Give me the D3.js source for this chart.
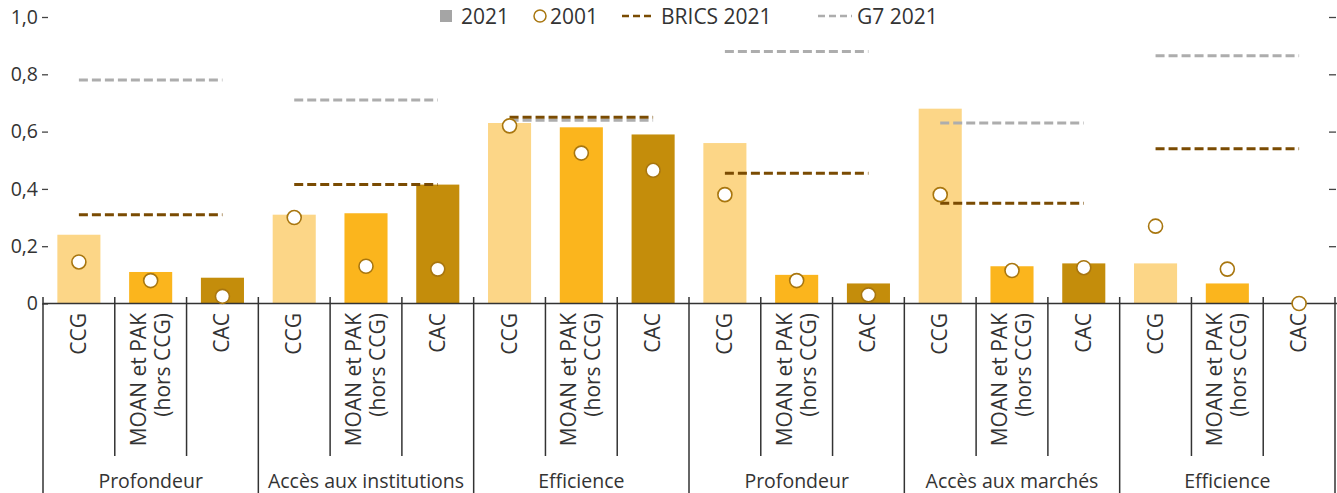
<!DOCTYPE html>
<html>
	<meta charset="utf-8" />
	<style>
		html,
		body,
		svg {
			padding: 0px;
			margin: 0px;
		}
		body {
			background: #fff;
		}
		text {
			font-family: "Open Sans", sans-serif;
			font-size: 19px;
			fill: #333;
		}
		.rlab text {
			font-size: 21px;
		}
		.legend text {
			font-size: 21px;
		}
	</style>
	<svg width="1337" height="493"></svg>
	<script src="https://cdn.jsdelivr.net/npm/d3@7"></script>
	<script>
		// data
		var groups = ["Profondeur", "Accès aux institutions", "Efficience", "Profondeur", "Accès aux marchés", "Efficience"];
		var regions = [["CCG"], ["MOAN et PAK", "(hors CCG)"], ["CAC"]];
		var values2021 = [0.24, 0.11, 0.09, 0.31, 0.315, 0.415, 0.63, 0.615, 0.59, 0.56, 0.1, 0.07, 0.68, 0.13, 0.14, 0.14, 0.07, 0];
		var values2001 = [0.145, 0.08, 0.025, 0.3, 0.13, 0.12, 0.62, 0.525, 0.465, 0.38, 0.08, 0.03, 0.38, 0.115, 0.125, 0.27, 0.12, 0];
		var brics2021 = [0.31, 0.415, 0.65, 0.455, 0.35, 0.54];
		var g72021 = [0.78, 0.71, 0.64, 0.88, 0.63, 0.865];
		var yTicks = [0, 0.2, 0.4, 0.6, 0.8, 1.0];

		var regionColors = ["#fcd687", "#fbb51d", "#c48d0b"];
		var bricsColor = "#7a4b02",
			g7Color = "#adadad",
			circleStroke = "#a8760f";

		var svg = d3.select("svg");

		var x0 = 43,
			x1 = 1335,
			yBase = 303.5;

		var bands = d3.range(groups.length * regions.length);
		var x = d3.scaleBand().domain(bands).range([x0, x1]).paddingInner(0).paddingOuter(0);
		var bw = x.bandwidth();
		var barW = bw * 0.6;

		var y = d3.scaleLinear().domain([0, 1]).range([yBase, 17]);

		function fmt(d) {
			return d === 0 ? "0" : d3.format(".1f")(d).replace(".", ",");
		}

		// left axis (labels + short ticks)
		var yAxis = svg
			.append("g")
			.attr("transform", "translate(48,0)")
			.call(d3.axisLeft(y).tickValues(yTicks).tickSize(6).tickPadding(4).tickFormat(fmt));
		yAxis.select(".domain").remove();
		yAxis.selectAll("line").attr("stroke", "#444").attr("stroke-width", 1.3);
		yAxis.selectAll("text").style("font-family", '"Open Sans", sans-serif').style("font-size", "19.5px").attr("fill", "#333");

		// right axis, ticks only
		var yAxisR = svg
			.append("g")
			.attr("transform", "translate(1329,0)")
			.call(d3.axisRight(y).tickValues(yTicks.slice(1)).tickSize(7).tickFormat(""));
		yAxisR.select(".domain").remove();
		yAxisR.selectAll("line").attr("stroke", "#444").attr("stroke-width", 1.3);

		// bars 2021
		svg.append("g")
			.selectAll("rect")
			.data(bands)
			.enter()
			.append("rect")
			.attr("x", function (i) {
				return x(i) + (bw - barW) / 2;
			})
			.attr("width", barW)
			.attr("y", function (i) {
				return y(values2021[i]);
			})
			.attr("height", function (i) {
				return yBase - y(values2021[i]);
			})
			.attr("fill", function (i) {
				return regionColors[i % 3];
			});

		// x axis line and separators
		var axisG = svg.append("g").attr("stroke", "#333").attr("stroke-width", 1.5);
		axisG.append("line").attr("x1", x0).attr("x2", 1337).attr("y1", yBase).attr("y2", yBase);
		axisG
			.selectAll("line.sep")
			.data(d3.range(bands.length + 1))
			.enter()
			.append("line")
			.attr("class", "sep")
			.attr("x1", function (i) {
				return x0 + i * bw;
			})
			.attr("x2", function (i) {
				return x0 + i * bw;
			})
			.attr("y1", 297)
			.attr("y2", function (i) {
				return i % 3 === 0 ? 493 : 456;
			});

		// reference lines per group
		function refLine(vals, color) {
			svg.append("g")
				.selectAll("line")
				.data(vals)
				.enter()
				.append("line")
				.attr("x1", function (d, g) {
					return x(g * 3) + bw / 2;
				})
				.attr("x2", function (d, g) {
					return x(g * 3 + 2) + bw / 2;
				})
				.attr("y1", function (d) {
					return y(d);
				})
				.attr("y2", function (d) {
					return y(d);
				})
				.attr("stroke", color)
				.attr("stroke-width", 3)
				.attr("stroke-dasharray", "9,4");
		}
		refLine(g72021, g7Color);
		refLine(brics2021, bricsColor);

		// 2001 circles
		svg.append("g")
			.selectAll("circle")
			.data(bands)
			.enter()
			.append("circle")
			.attr("cx", function (i) {
				return x(i) + bw / 2;
			})
			.attr("cy", function (i) {
				return y(values2001[i]);
			})
			.attr("r", 7)
			.attr("fill", "#fff")
			.attr("stroke", circleStroke)
			.attr("stroke-width", 1.6);

		// rotated region labels
		var lab = svg
			.append("g")
			.attr("class", "rlab")
			.selectAll("text")
			.data(bands)
			.enter()
			.append("text")
			.attr("text-anchor", "end")
			.attr("transform", function (i) {
				var n = regions[i % 3].length;
				var cx = x(i) + bw / 2 - (n - 1) * 12;
				return "translate(" + (cx + 7) + ",313) rotate(-90)";
			});
		lab.selectAll("tspan")
			.data(function (i) {
				return regions[i % 3];
			})
			.enter()
			.append("tspan")
			.attr("x", 0)
			.attr("dy", function (d, k) {
				return k === 0 ? 0 : 24;
			})
			.text(function (d) {
				return d;
			});

		// group labels
		svg.append("g")
			.selectAll("text")
			.data(groups)
			.enter()
			.append("text")
			.attr("text-anchor", "middle")
			.style("font-size", "19.5px")
			.attr("x", function (d, g) {
				return x(g * 3 + 1) + bw / 2;
			})
			.attr("y", 488)
			.text(function (d) {
				return d;
			});

		// legend
		var lg = svg.append("g").attr("class", "legend");
		lg.append("rect").attr("x", 440).attr("y", 10).attr("width", 12).attr("height", 12).attr("fill", "#a5a5a5");
		lg.append("text").attr("x", 461).attr("y", 23.5).text("2021");
		lg.append("circle").attr("cx", 540).attr("cy", 16).attr("r", 6).attr("fill", "#fff").attr("stroke", circleStroke).attr("stroke-width", 1.5);
		lg.append("text").attr("x", 550).attr("y", 23.5).text("2001");
		lg.append("line").attr("x1", 622).attr("x2", 655).attr("y1", 16).attr("y2", 16).attr("stroke", bricsColor).attr("stroke-width", 2.5).attr("stroke-dasharray", "7,4");
		lg.append("text").attr("x", 661).attr("y", 23.5).text("BRICS 2021");
		lg.append("line").attr("x1", 818).attr("x2", 852).attr("y1", 16).attr("y2", 16).attr("stroke", g7Color).attr("stroke-width", 2.5).attr("stroke-dasharray", "7,4");
		lg.append("text").attr("x", 857).attr("y", 23.5).text("G7 2021");
	</script>
</html>
